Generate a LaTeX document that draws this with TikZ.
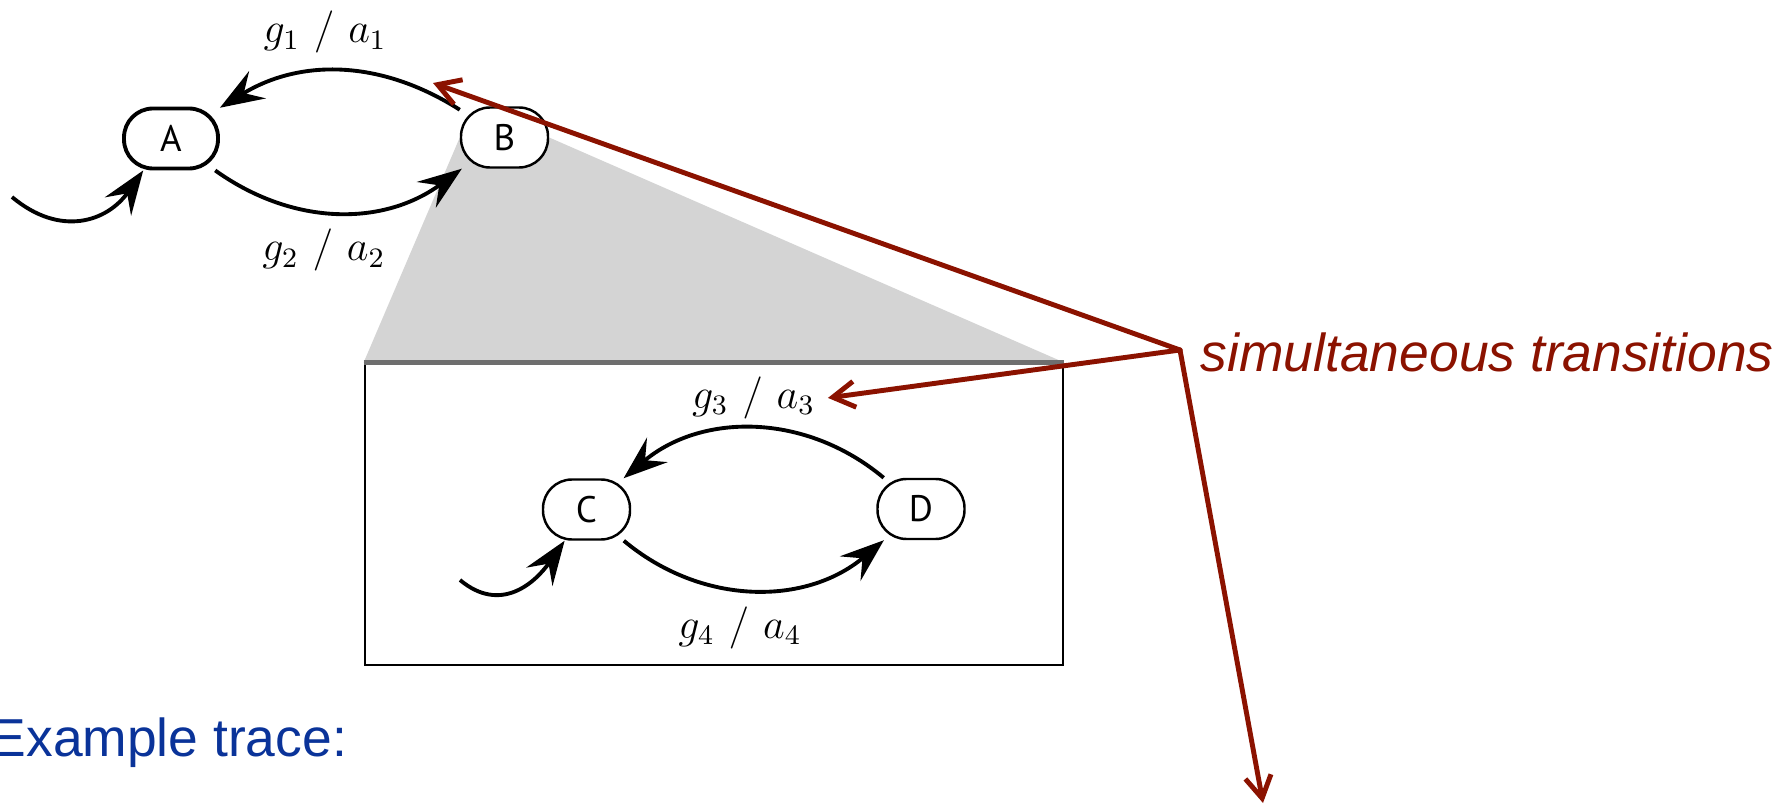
\documentclass[tikz,border=0pt]{standalone}
\usepackage{fontspec}
\usetikzlibrary{arrows.meta, positioning, backgrounds}
\newfontfamily\arialfont{Liberation Sans}
\newfontfamily\statefont{PT Sans}
\definecolor{pointerred}{HTML}{8B1200}
\definecolor{tracetitle}{HTML}{0A3399}
\definecolor{zoomgray}{HTML}{D4D4D4}
\definecolor{boxedge}{HTML}{6E6E6E}

\begin{document}
\begin{tikzpicture}[
  st/.style={rectangle, draw=black, fill=white, line width=0.7pt,
             rounded corners=0.29cm, minimum width=0.87cm, minimum height=0.6cm,
             inner sep=0pt, font=\statefont\fontsize{10.5}{12}\selectfont},
  tr/.style={-{Stealth[length=4.4mm, width=3.2mm, inset=1.6mm]}, line width=1.1pt},
  lbl/.style={font=\fontsize{12}{14}\selectfont, inner sep=0pt},
  ptr/.style={-{Straight Barb[length=2.2mm, width=2.6mm]}, line width=1.4pt,
              color=pointerred, line cap=round},
  note/.style={anchor=base west, inner sep=0pt},
  notefont/.style={font=\arialfont\fontsize{15.2}{18}\selectfont},
  notefontit/.style={font=\arialfont\itshape\fontsize{15.2}{18}\selectfont},
]
\clip (0,0) rectangle (17.92,-8.06);

%% --- top level machine ---
\node[st, minimum width=0.94cm, line width=1.1pt] (A) at (1.71,-1.385) {A};
\node[st] (B) at (5.045,-1.375) {B};

%% --- zoomed box for B ---
\node[draw, line width=0.8pt, minimum width=6.98cm, minimum height=3.01cm,
      inner sep=0pt] (box) at (7.14,-5.145) {};
\draw[boxedge, line width=1.2pt] (box.north west) -- (box.north east);
\begin{scope}[on background layer]
  \fill[zoomgray] (B.west) -- (box.north west) -- (box.north east) -- (B.east) -- cycle;
\end{scope}

\node[st] (C) at (5.865,-5.095) {C};
\node[st] (D) at (9.21,-5.09) {D};

%% --- transitions ---
\draw[tr] (B) to[bend right=32] node[lbl, above=1.6mm, xshift=-1.5mm] (g1a1) {$g_1 \ / \ a_1$} (A);
\draw[tr] (A) to[bend right=36] node[lbl, below=1.5mm, xshift=-1.5mm] (g2a2) {$g_2 \ / \ a_2$} (B);
\draw[tr] (D) to[bend right=40] node[lbl, above=0.8mm] (g3a3) {$g_3 \ / \ a_3$} (C);
\draw[tr] (C) to[bend right=40] node[lbl, below=1.5mm, xshift=-1.4mm] (g4a4) {$g_4 \ / \ a_4$} (D);

%% --- initial arrows ---
\coordinate (initA) at (0.12,-1.97);
\coordinate (initC) at (4.60,-5.80);
\draw[tr] (initA) to[out=-40, in=235, looseness=1.2] (A.229);
\draw[tr] (initC) to[out=-40, in=235, looseness=1.2] (C.235);

%% --- pointers ---
\coordinate (hub) at (11.80,-3.50);
\coordinate (ab1) at (4.33,-0.83);
\coordinate (trace) at (12.63,-8.03);
\node[note, notefontit, text=pointerred] (simtx) at (12.00,-3.72) {simultaneous transitions};
\draw[ptr] (hub) -- (ab1);
\draw[ptr] (hub) -- ([xshift=1.1mm]g3a3.east);
\draw[ptr] (hub) -- (trace);

\node[note, notefont, text=tracetitle] (extrace) at (-0.10,-7.56) {Example trace:};
\end{tikzpicture}
\end{document}
